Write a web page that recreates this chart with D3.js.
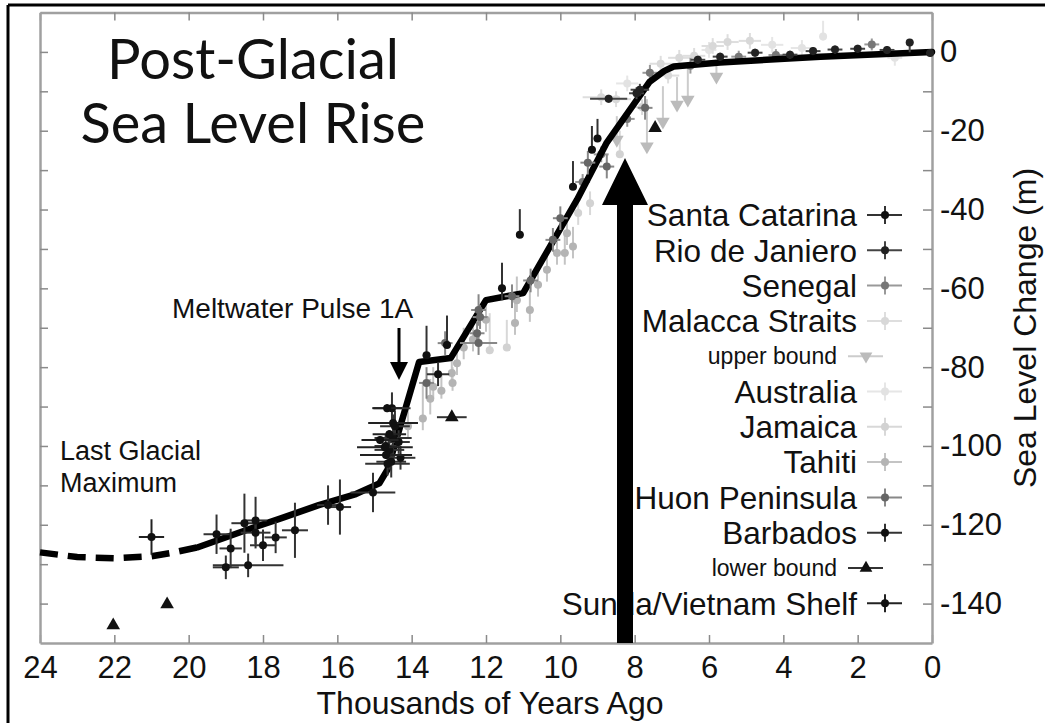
<!DOCTYPE html>
<html>
<head>
<meta charset="utf-8">
<script src="https://cdn.jsdelivr.net/npm/d3@7"></script>
<style>
  body { margin: 0; background: #fff; }
  svg { display: block; }
  text { font-family: "Liberation Sans", Arial, sans-serif; fill: #111; }
</style>
</head>
<body>
<script>
// each point: [age (kyr), sea level (m), age error, level error below, level error above]
let santaCatarina = [[11.09,-46.4,0.1,0,6.5],[9.66,-34.2,0.1,0,6.5],[9.15,-24.8,0.1,0,6],[13.05,-74.4,0.1,0,7.5],
    [13.6,-77,0.1,0,7.5],[9.0,-22,0.1,0,5],[11.57,-60,0.1,3,6.5]]
let rioDeJaniero = [[8.7,-11.9,0.5,1,1],[7.86,-9.6,0.25,1.5,1.5],[7.95,-10.5,0.2,1.5,1.5],[5.7,-1.2,0.2,1,1],
    [4.76,-0.2,0.2,1,1],[3.82,-0.7,0.2,1,1],[2.61,0.6,0.2,1,1],[1.21,0.5,0.2,1,1],[0.6,2.4,0.1,2.5,0.5],
    [0.05,-0.3,0.1,1,1],[3.2,0.2,0.2,1,1],[2.0,0.8,0.2,1,1],[6.3,-2,0.2,1,1]]
let senegal = [[7.59,-5.3,0.2,2,2],[8.2,-17,0.2,2,2],[6.5,-3.5,0.2,2,2],[5.2,-1.2,0.2,1.5,1.5],[4.2,-0.8,0.2,1.5,1.5],
    [1.62,1.9,0.2,1.5,1.5],[9.4,-33,0.2,2,2],[8.9,-26,0.2,2,2]]
let malaccaStraits = [[7.3,-3,0.3,2,2],[6.8,-1.5,0.3,2,2],[6.4,-1,0.3,2,2],[5.9,1.5,0.3,2,2],[5.5,2.5,0.3,2,2],
    [4.9,2.8,0.3,2,2],[8.9,-11.5,0.5,2,2],[8.5,-12,0.4,2,2],[7.1,-6,0.3,2,2]]
let upperBound = [[7.67,-24,0,0,12],[7.24,-17.7,0,0,9],[6.86,-13.4,0,0,7],[6.57,-12.1,0,0,8],[8.48,-22.3,0,0,6],[5.8,-6.3,0,0,3]]
let australia = [[2.93,3.9,0.1,1,4],[4.3,1.8,0.3,2,2],[3.5,1,0.3,2,2],[6.0,0.5,0.2,2,2],[1.0,-1.5,0.2,2,2],[8.2,-8,0.3,2,2]]
let jamaica = [[11.9,-75.7,0.1,0,9.4],[11.44,-75,0.1,0,7],[8.4,-26,0.1,0,6],[9.2,-38.4,0.1,3,3],[9.52,-40.9,0.1,3,3],[7.8,-14,0.2,2,2]]
let tahiti = [[13.42,-85,0.1,3,5],[12.92,-81.5,0.1,3,5],[12.78,-79,0.1,3,5],[12.6,-75,0.1,3,5],[12.35,-73,0.1,3,5],
    [11.22,-68.8,0.1,3,6],[11.17,-63,0.1,3,6],[10.82,-65.5,0.1,3,5],[10.6,-59.1,0.1,3,5],[10.36,-55.3,0.1,3,5],
    [10.09,-51,0.1,3,5],[9.88,-51,0.1,3,5],[9.66,-49.4,0.1,3,5],[9.82,-46,0.1,3,5],[13.7,-93,0.1,3,9],
    [13.5,-88,0.1,4,5],[12.0,-68,0.1,3,5],[14.1,-95,0.1,3,8],[13.2,-86,0.1,2,4],[12.9,-84,0.1,2,4]]
let huonPeninsula = [[13.1,-73.9,0.2,3,3],[12.24,-71.4,0.2,3,3],[12.16,-67.3,0.2,3,3],[12.2,-73.9,0.5,3,3],
    [12.2,-65.5,0.2,4,4],[10.2,-47.7,0.2,3,3],[10.0,-42.2,0.2,3,3],[9.26,-28.1,0.2,3,3],[8.75,-29.1,0.2,3,3],
    [7.72,-14.2,0.2,3,3],[13.6,-84,0.2,4,4],[10.8,-58,0.2,3,3],[11.3,-62,0.2,3,3]]
let barbados = [[19.25,-122.4,0.35,5,5],[18.87,-126,0.3,5,5],[19.0,-130.8,0.35,3,3],[18.4,-130.3,0.95,3,3],
    [18.5,-119.6,0.35,7.5,7.5],[18.2,-118.9,0.3,6,6],[18.2,-122,0.4,4,4],[18.0,-125.2,0.35,4,4],
    [17.66,-123.2,0.3,4,4],[17.14,-121.4,0.35,7,7],[16.25,-115,0.3,5,5],[15.93,-115.5,0.3,7,7],
    [15.04,-111.8,0.6,5,5],[14.6,-101,0.4,5,5],[14.5,-98,0.5,6,6],[14.55,-104,0.4,4,4],[14.45,-95,0.4,4,4],
    [14.53,-90.4,0.5,4,4],[14.7,-100,0.3,3,3],[14.35,-99,0.3,3,3],[14.3,-103,0.4,3,3],[14.65,-104.5,0.6,3,3],
    [13.29,-81.8,0.3,3,3]]
let lowerBound = [[22.03,-145.5,0,0,0],[20.58,-140.2,0,0,0],[12.92,-92.7,0.4,0,0],[7.45,-19.3,0,0,0]]
let sundaShelf = [[21.0,-123.1,0.34,4.5,4.5],[14.66,-90.4,0.4,1,1],[14.5,-94.2,0.67,1,1],[14.72,-100.3,0.75,1,1],
    [14.69,-102.3,0.7,1,1],[14.6,-97,0.45,1,1],[14.85,-98.5,0.5,1,1]]

// the fitted sea level curve
let dashedAge = [24, 23, 22, 21, 20.5, 19.75]
let dashedLevel = [-127, -128.2, -128.5, -128, -127.2, -125.7]
let curveAge = [19.75, 18.5, 17.5, 16.5, 15.5, 14.87, 14.65, 13.8, 12.95, 12.0, 11.0, 9.55, 8.75, 7.6, 7.2, 6.95, 5.7, 3, 0]
let curveLevel = [-125.7, -121.5, -118.3, -115, -112.2, -109.5, -106, -78.7, -77.7, -63, -61.2, -37.5, -23, -7.6, -4.8, -3.7, -2.7, -1.2, 0]

let xTicks = [24, 22, 20, 18, 16, 14, 12, 10, 8, 6, 4, 2, 0]
let yTicks = [0, -10, -20, -30, -40, -50, -60, -70, -80, -90, -100, -110, -120, -130, -140]
let yLabels = [0, -20, -40, -60, -80, -100, -120, -140]

let legendNames = ['Santa Catarina', 'Rio de Janiero', 'Senegal', 'Malacca Straits', 'upper bound', 'Australia',
    'Jamaica', 'Tahiti', 'Huon Peninsula', 'Barbados', 'lower bound', 'Sunda/Vietnam Shelf']
let legendData = [santaCatarina, rioDeJaniero, senegal, malaccaStraits, upperBound, australia,
    jamaica, tahiti, huonPeninsula, barbados, lowerBound, sundaShelf]

// styles per series (same order as the legend)
let dotColors = ['#111', '#222', '#777', '#d8d8d8', '#bbb', '#e2e2e2', '#d2d2d2', '#b4b4b4', '#666', '#111', '#111', '#111']
let barColors = ['#333', '#444', '#999', '#dedede', '#ccc', '#e6e6e6', '#d8d8d8', '#c4c4c4', '#888', '#333', '#333', '#222']
let shapes = ['circle', 'circle', 'circle', 'circle', 'down', 'circle', 'circle', 'circle', 'circle', 'circle', 'up', 'circle']
// light series first, the line, then dark ones on top
let underLine = [5, 3, 6, 4, 7, 2]
let overLine = [8, 1, 0, 9, 11, 10]

let svg = d3.select('body').append('svg')
    .attr('width', 1045)
    .attr('height', 723)

let xScale = d3.scaleLinear().domain([24, 0]).range([40, 932])
let yScale = d3.scaleLinear().domain([-150, 10]).range([643, 12.5])

// frame of the picture (only top and left show)
svg.append('line').attr('x1', 8).attr('x2', 1045).attr('y1', 5).attr('y2', 5)
    .attr('stroke', '#000').attr('stroke-width', 3)
svg.append('line').attr('x1', 8).attr('x2', 8).attr('y1', 5).attr('y2', 723)
    .attr('stroke', '#000').attr('stroke-width', 3)

// axes, ticks pointing inward
let bottomAxis = svg.append('g').attr('transform', 'translate(0,643)')
    .call(d3.axisBottom(xScale).tickValues(xTicks).tickSize(-8).tickSizeOuter(0).tickPadding(13).tickFormat(d3.format('d')))
let topAxis = svg.append('g').attr('transform', 'translate(0,12.5)')
    .call(d3.axisTop(xScale).tickValues(xTicks).tickSize(-8).tickSizeOuter(0).tickFormat(''))
let leftAxis = svg.append('g').attr('transform', 'translate(40,0)')
    .call(d3.axisLeft(yScale).tickValues(yTicks).tickSize(-8).tickSizeOuter(0).tickFormat(''))
let rightAxis = svg.append('g').attr('transform', 'translate(932,0)')
    .call(d3.axisRight(yScale).tickValues(yTicks).tickSize(-9).tickSizeOuter(0).tickPadding(8)
        .tickFormat(d => yLabels.includes(d) ? d : ''))

for (let g of [bottomAxis, topAxis, leftAxis, rightAxis]) {
    g.select('.domain').attr('stroke', '#a0a0a0').attr('stroke-width', 2.5)
    g.selectAll('.tick line').attr('stroke', '#8a8a8a').attr('stroke-width', 1.5)
    g.selectAll('.tick text').attr('font-size', 31).attr('fill', '#111')
        .attr('font-family', '"Liberation Sans", Arial, sans-serif')
}

function drawSeries(i) {
    let data = legendData[i]
    let g = svg.append('g')
    // vertical error bars
    g.selectAll('.v').data(data.filter(d => d[3] + d[4] > 0)).enter().append('line')
        .attr('x1', d => xScale(d[0])).attr('x2', d => xScale(d[0]))
        .attr('y1', d => yScale(d[1] - d[3])).attr('y2', d => yScale(d[1] + d[4]))
        .attr('stroke', barColors[i]).attr('stroke-width', 2)
    // horizontal error bars
    g.selectAll('.h').data(data.filter(d => d[2] > 0)).enter().append('line')
        .attr('x1', d => xScale(d[0] + d[2])).attr('x2', d => xScale(d[0] - d[2]))
        .attr('y1', d => yScale(d[1])).attr('y2', d => yScale(d[1]))
        .attr('stroke', barColors[i]).attr('stroke-width', 2)
    if (shapes[i] == 'circle') {
        g.selectAll('circle').data(data).enter().append('circle')
            .attr('cx', d => xScale(d[0])).attr('cy', d => yScale(d[1]))
            .attr('r', 4).attr('fill', dotColors[i])
    } else {
        let rot = shapes[i] == 'down' ? 180 : 0
        g.selectAll('path').data(data).enter().append('path')
            .attr('d', d3.symbol().type(d3.symbolTriangle).size(80))
            .attr('transform', d => 'translate(' + xScale(d[0]) + ',' + yScale(d[1]) + ') rotate(' + rot + ')')
            .attr('fill', dotColors[i])
    }
}

underLine.forEach(drawSeries)

let line = d3.line().x(d => xScale(d[0])).y(d => yScale(d[1]))
svg.append('path')
    .attr('d', line(dashedAge.map((a, i) => [a, dashedLevel[i]])))
    .attr('fill', 'none').attr('stroke', '#000').attr('stroke-width', 6.5)
    .attr('stroke-dasharray', '18,10')
svg.append('path')
    .attr('d', line(curveAge.map((a, i) => [a, curveLevel[i]])))
    .attr('fill', 'none').attr('stroke', '#000').attr('stroke-width', 6.5)
    .attr('stroke-linejoin', 'round').attr('stroke-linecap', 'round')

overLine.forEach(drawSeries)

// titles and annotations
let title = svg.append('text').attr('text-anchor', 'middle')
    .attr('font-size', 56).style('font-family', 'Lato, "Open Sans", sans-serif')
title.append('tspan').attr('x', 253).attr('y', 79).text('Post-Glacial')
title.append('tspan').attr('x', 253).attr('y', 143).text('Sea Level Rise')

svg.append('text').attr('x', 172).attr('y', 318).attr('font-size', 28).text('Meltwater Pulse 1A')
svg.append('text').attr('x', 60).attr('y', 460).attr('font-size', 27).text('Last Glacial')
svg.append('text').attr('x', 60).attr('y', 492).attr('font-size', 27).text('Maximum')

// small arrow for the meltwater pulse
svg.append('line').attr('x1', 399).attr('x2', 399).attr('y1', 328).attr('y2', 366)
    .attr('stroke', '#000').attr('stroke-width', 3)
svg.append('path').attr('d', 'M390,362 L408,362 L399,380 Z').attr('fill', '#000')

svg.append('text').attr('x', 490).attr('y', 714).attr('text-anchor', 'middle')
    .attr('font-size', 32).text('Thousands of Years Ago')
svg.append('text').attr('transform', 'translate(1036,328) rotate(-90)').attr('text-anchor', 'middle')
    .attr('font-size', 32).text('Sea Level Change (m)')

// legend
legendNames.forEach(function(name, i) {
    let cy = 215 + i * 35.3
    let small = shapes[i] != 'circle'
    svg.append('text').attr('x', small ? 837 : 857).attr('y', cy).attr('dy', '0.36em')
        .attr('text-anchor', 'end').attr('font-size', small ? 23 : 31.5).text(name)
    if (small) {
        svg.append('line').attr('x1', 848).attr('x2', 883).attr('y1', cy).attr('y2', cy)
            .attr('stroke', barColors[i]).attr('stroke-width', 2)
        svg.append('path').attr('d', d3.symbol().type(d3.symbolTriangle).size(70))
            .attr('transform', 'translate(866,' + cy + ') rotate(' + (shapes[i] == 'down' ? 180 : 0) + ')')
            .attr('fill', dotColors[i])
    } else {
        svg.append('line').attr('x1', 867).attr('x2', 902).attr('y1', cy).attr('y2', cy)
            .attr('stroke', barColors[i]).attr('stroke-width', 2)
        svg.append('line').attr('x1', 885).attr('x2', 885).attr('y1', cy - 9).attr('y2', cy + 9)
            .attr('stroke', barColors[i]).attr('stroke-width', 2)
        svg.append('circle').attr('cx', 885).attr('cy', cy).attr('r', 4).attr('fill', dotColors[i])
    }
})

// big black arrow drawn over everything
svg.append('path')
    .attr('d', 'M617,643 L617,205 L602,205 L625,158 L648,205 L633,205 L633,643 Z')
    .attr('fill', '#000')
</script>
</body>
</html>
